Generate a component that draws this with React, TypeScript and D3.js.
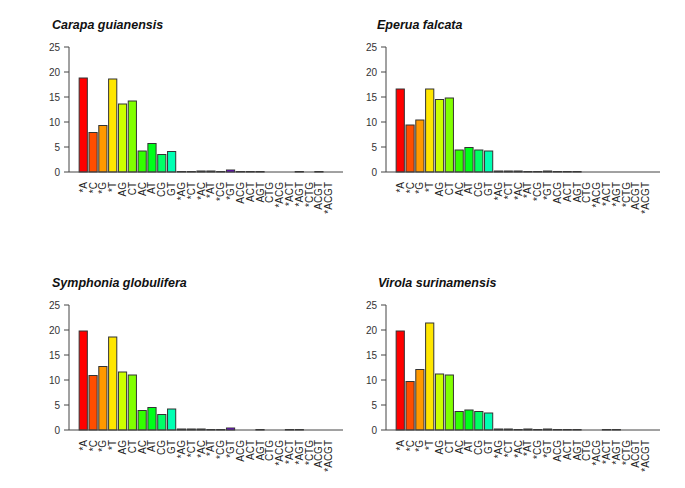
import React from "react";
import * as d3 from "d3";

const categories = ["*A","*C","*G","*T","AG","CT","AC","AT","CG","GT","*AG","*CT","*AC","*AT","*CG","*GT","ACG","ACT","AGT","CTG","*ACG","*ACT","*AGT","*CTG","ACGT","*ACGT"];

const carapa = [18.8,7.9,9.3,18.6,13.6,14.2,4.2,5.7,3.5,4.1,0.1,0.1,0.2,0.2,0.1,0.4,0.1,0.1,0.1,0,0,0,0.1,0,0.1,0];
const eperua = [16.6,9.4,10.4,16.6,14.5,14.8,4.4,4.9,4.4,4.2,0.2,0.2,0.2,0.1,0.1,0.2,0.1,0.1,0.1,0,0,0,0,0,0,0];
const symphonia = [19.8,10.9,12.7,18.6,11.6,11.0,3.9,4.5,3.1,4.2,0.2,0.2,0.2,0.1,0.1,0.4,0,0,0.1,0,0,0.1,0.1,0,0,0];
const virola = [19.8,9.7,12.1,21.4,11.2,11.0,3.7,4.0,3.7,3.4,0.2,0.2,0.1,0.2,0.1,0.2,0.1,0.1,0.1,0,0,0.1,0.1,0,0,0];

const titles = ["Carapa guianensis","Eperua falcata","Symphonia globulifera","Virola surinamensis"];
const series = [carapa, eperua, symphonia, virola];
const yTicks = [0,5,10,15,20,25];

const FONT = "'Liberation Sans', Arial, Helvetica, sans-serif";

function color(i: number) {
  return d3.hsl((i * 18) % 360, 1, 0.5).formatHex();
}

function Panel({ values, title, ox, oy, tx }: { values: number[]; title: string; ox: number; oy: number; tx: number }) {
  // user coordinates like R barplot
  const ux = d3.scaleLinear().domain([-1.04, 32.44]).range([ox + 69, ox + 343]);
  const band = d3.scaleBand<string>().domain(categories).range([ux(0), ux(31.4)]).padding(1 / 6);
  const y = d3.scaleLinear().domain([0, 25]).range([oy + 172, oy + 47]);
  const axisX = ux(-1.04);
  return (
    <g>
      <text x={tx} y={oy + 28.5} fontFamily={FONT} fontWeight="bold" fontStyle="italic" fontSize={12.5} fill="#111">{title}</text>
      {values.map((v, i) => (
        <rect key={i} x={band(categories[i])} y={y(v)} width={band.bandwidth()} height={y(0) - y(v)}
          fill={color(i)} stroke="#333" strokeWidth={1} />
      ))}
      <line x1={axisX} x2={ux(32.44)} y1={y(0)} y2={y(0)} stroke="#444" strokeWidth={1} />
      <line x1={axisX} x2={axisX} y1={y(0)} y2={y(25)} stroke="#444" strokeWidth={1} />
      {yTicks.map(t => (
        <g key={t}>
          <line x1={axisX - 5} x2={axisX} y1={y(t)} y2={y(t)} stroke="#444" strokeWidth={1} />
          <text x={axisX - 9} y={y(t)} dy="0.35em" textAnchor="end" fontFamily={FONT} fontSize={10} fill="#333">{t}</text>
        </g>
      ))}
      {categories.map(c => {
        const cx = (band(c) as number) + band.bandwidth() / 2;
        return (
          <text key={c} transform={`translate(${cx},${y(0) + 10}) rotate(-90)`} dy="0.35em" textAnchor="end"
            fontFamily={FONT} fontSize={10} fill="#222">{c}</text>
        );
      })}
    </g>
  );
}

export default function App() {
  return (
    <svg width={685} height={488} style={{ position: "absolute", left: 0, top: 0, background: "#fff" }}>
      <rect width={685} height={488} fill="#fff" />
      <Panel values={series[0]} title={titles[0]} ox={0} oy={0} tx={52} />
      <Panel values={series[1]} title={titles[1]} ox={317} oy={0} tx={377} />
      <Panel values={series[2]} title={titles[2]} ox={0} oy={258} tx={52} />
      <Panel values={series[3]} title={titles[3]} ox={317} oy={258} tx={378} />
    </svg>
  );
}
